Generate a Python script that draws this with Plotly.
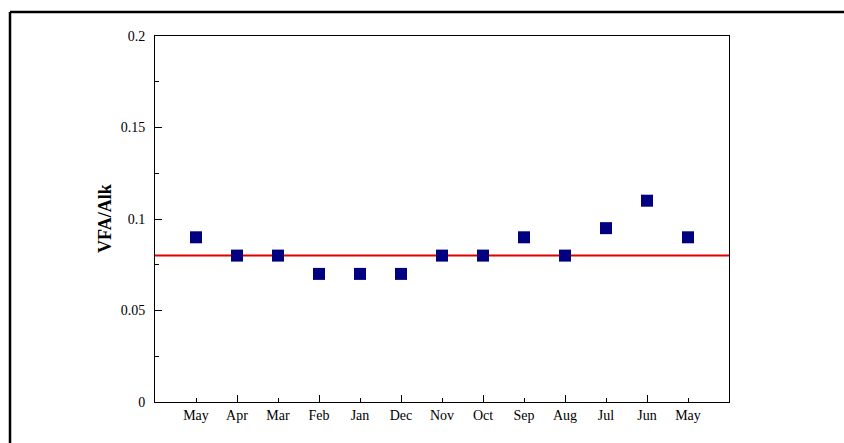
import plotly.graph_objects as go

# Monthly VFA/alkalinity ratio (most recent month first)
months = ["May", "Apr", "Mar", "Feb", "Jan", "Dec", "Nov", "Oct", "Sep", "Aug", "Jul", "Jun", "May"]
ratio = [0.09, 0.08, 0.08, 0.07, 0.07, 0.07, 0.08, 0.08, 0.09, 0.08, 0.095, 0.11, 0.09]
reference_level = 0.08
positions = list(range(1, len(months) + 1))

y_major = [0, 0.05, 0.1, 0.15, 0.2]
y_major_text = ["0", "0.05", "0.1", "0.15", "0.2"]

serif = "Liberation Serif"

fig = go.Figure()

fig.add_trace(go.Scatter(
    x=[0, 14], y=[reference_level, reference_level],
    mode="lines", line=dict(color="#e00000", width=2),
    hoverinfo="skip", showlegend=False,
))

fig.add_trace(go.Scatter(
    x=positions, y=ratio, mode="markers",
    marker=dict(symbol="square", size=12, color="#000080",
                line=dict(width=0)),
    showlegend=False,
))

fig.update_xaxes(
    range=[0, 14],
    tickmode="array", tickvals=positions, ticktext=months,
    ticks="inside", ticklen=4, tickwidth=1, tickcolor="black",
    minor=dict(tickvals=[2, 4, 6, 8, 10, 12], ticks="inside", ticklen=7,
               tickcolor="black", showgrid=False),
    showline=True, linecolor="black", linewidth=1, mirror=True,
    showgrid=False, zeroline=False,
    tickfont=dict(family=serif, size=14, color="black"),
    ticklabelstandoff=0,
)

fig.update_yaxes(
    range=[0, 0.2],
    tickmode="array", tickvals=y_major, ticktext=y_major_text,
    ticks="inside", ticklen=7, tickwidth=1, tickcolor="black",
    minor=dict(tickvals=[0.025, 0.075, 0.125, 0.175], ticks="inside",
               ticklen=4, tickcolor="black", showgrid=False),
    showline=True, linecolor="black", linewidth=1, mirror=True,
    showgrid=False, zeroline=False,
    tickfont=dict(family=serif, size=14, color="black"),
    ticklabelstandoff=6,
)

# Y-axis title placed as a rotated annotation
fig.add_annotation(
    text="<b>VFA/Alk</b>", xref="paper", yref="paper",
    x=(105 - 155) / 574, y=0.5, xanchor="center", yanchor="middle",
    textangle=-90, showarrow=False,
    font=dict(family=serif, size=18, color="black"),
)

# Outer frame (top and left edges)
fx = (10 - 155) / 574
fy = 1 + 24 / 366
fig.add_shape(type="line", xref="paper", yref="paper",
              x0=fx, x1=2.0, y0=fy, y1=fy,
              line=dict(color="black", width=2.5))
fig.add_shape(type="line", xref="paper", yref="paper",
              x0=fx, x1=fx, y0=fy, y1=-1.0,
              line=dict(color="black", width=2.5))

fig.update_layout(
    width=844, height=443,
    margin=dict(l=155, r=115, t=36, b=41),
    paper_bgcolor="white", plot_bgcolor="white",
    showlegend=False,
)

fig.write_html("out.html")
